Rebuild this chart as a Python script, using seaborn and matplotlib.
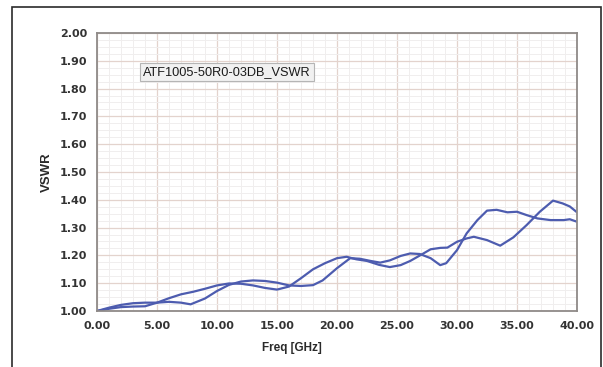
import pandas as pd
import matplotlib
matplotlib.use("Agg")
import matplotlib.pyplot as plt
from matplotlib.patches import Rectangle
from matplotlib.ticker import MultipleLocator, FormatStrFormatter
import seaborn as sns

# trace 1 (ends with the peak near 38 GHz)
freq_a = [0, 1, 2, 3, 4, 5, 6, 7, 8, 9, 10, 11, 12, 13, 14, 15, 16, 17, 18, 19,
          20, 20.8, 21.6, 22.5, 23.5, 24.4, 25.3, 26.1, 27, 27.8, 28.6, 29.2, 30,
          30.8, 31.4, 32.5, 33.6, 34.7, 35.8, 36.9, 38, 38.8, 39.4, 40]
vswr_a = [1.000, 1.008, 1.014, 1.016, 1.017, 1.030, 1.046, 1.060, 1.069, 1.080,
          1.092, 1.099, 1.098, 1.092, 1.083, 1.077, 1.088, 1.118, 1.150, 1.172,
          1.190, 1.195, 1.186, 1.180, 1.166, 1.158, 1.165, 1.180, 1.202, 1.222,
          1.227, 1.228, 1.249, 1.261, 1.267, 1.255, 1.235, 1.265, 1.309, 1.357,
          1.397, 1.387, 1.376, 1.355]

# trace 2 (plateau near 1.36 at 33 GHz)
freq_b = [0, 1, 2, 3, 4, 5, 6, 7, 7.8, 9, 10, 11, 12, 13, 14, 15, 16, 17, 18,
          18.8, 20, 21.1, 21.9, 22.8, 23.6, 24.4, 25.3, 26.1, 26.9, 27.8, 28.6,
          29.1, 30, 30.8, 31.7, 32.5, 33.3, 34.2, 35, 35.8, 36.7, 37.8, 38.9,
          39.4, 40]
vswr_b = [1.000, 1.012, 1.022, 1.028, 1.030, 1.030, 1.033, 1.030, 1.024, 1.045,
          1.072, 1.094, 1.106, 1.110, 1.108, 1.102, 1.092, 1.090, 1.093, 1.110,
          1.154, 1.190, 1.188, 1.180, 1.174, 1.182, 1.198, 1.207, 1.205, 1.190,
          1.165, 1.172, 1.219, 1.279, 1.327, 1.361, 1.364, 1.355, 1.357, 1.345,
          1.333, 1.327, 1.327, 1.330, 1.321]

trace_name = "ATF1005-50R0-03DB_VSWR"

df = pd.concat([
    pd.DataFrame({"freq": freq_a, "vswr": vswr_a, "trace": "a"}),
    pd.DataFrame({"freq": freq_b, "vswr": vswr_b, "trace": "b"}),
], ignore_index=True)

sns.set_theme(style="white")
plt.rcParams['font.family'] = ['DejaVu Sans']

fig = plt.figure(figsize=(6.03, 3.67), dpi=100)
ax = fig.add_axes([0.1609, 0.1526, 0.7960, 0.7575])

line_col = "#4d5caf"
sns.lineplot(data=df, x="freq", y="vswr", hue="trace", units="trace", estimator=None,
             palette=[line_col, line_col], linewidth=1.6, legend=False, sort=False, ax=ax)

ax.set_xlim(0, 40)
ax.set_ylim(1.0, 2.0)
ax.xaxis.set_major_locator(MultipleLocator(5))
ax.xaxis.set_minor_locator(MultipleLocator(1))
ax.yaxis.set_major_locator(MultipleLocator(0.1))
ax.yaxis.set_minor_locator(MultipleLocator(0.025))
ax.xaxis.set_major_formatter(FormatStrFormatter("%.2f"))
ax.yaxis.set_major_formatter(FormatStrFormatter("%.2f"))

ax.grid(which="major", color="#e3d3cd", linewidth=0.9)
ax.grid(which="minor", color="#f0eeee", linewidth=0.7)
ax.set_axisbelow(True)

for s in ax.spines.values():
    s.set_color("#8f8a88")
    s.set_linewidth(1.3)

ax.tick_params(which="both", direction="out", color="#8f8a88", width=0.8)
ax.tick_params(which="major", length=3, pad=4, labelsize=8, labelcolor="#333333")
ax.tick_params(which="minor", length=2)
ax.tick_params(axis="y", which="minor", length=0)
for lab in ax.get_xticklabels() + ax.get_yticklabels():
    lab.set_fontweight("bold")

ax.set_xlabel("Freq [GHz]", fontsize=8.5, family="Liberation Sans", fontweight="bold",
              color="#2a2a2a", labelpad=2)
ax.xaxis.set_label_coords(0.406, -0.11)
ax.set_ylabel("VSWR", fontsize=9.5, family="Liberation Sans", fontweight="bold",
              color="#2a2a2a", labelpad=5)

ax.text(3.85, 1.86, trace_name, fontsize=9.2, family="Liberation Sans", color="#1a1a1a",
        va="center", ha="left",
        bbox=dict(boxstyle="square,pad=0.25", facecolor="#f1f1f1", edgecolor="#b5b5b5",
                  linewidth=0.8))

# outer frame around the whole picture
fig.patches.append(Rectangle((12 / 603, -0.2), 589 / 603, 1.2 - 7 / 367,
                             transform=fig.transFigure, fill=False,
                             edgecolor="#2b2b2b", linewidth=1.2, clip_on=False))

fig.savefig("out.png", dpi=100)
plt.close(fig)
